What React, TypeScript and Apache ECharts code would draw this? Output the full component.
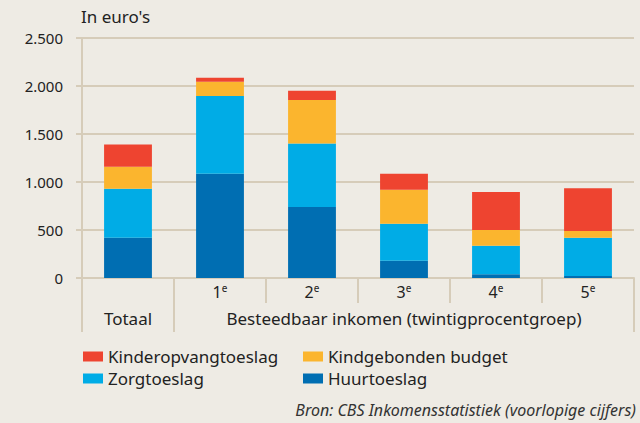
import React, { useEffect, useRef } from "react";
import * as echarts from "echarts";

const categories = ["Totaal", "1e", "2e", "3e", "4e", "5e"];
const groupLabels = ["Totaal", "", "", "Besteedbaar inkomen (twintigprocentgroep)", "", ""];
const huurtoeslag = [420, 1085, 740, 180, 40, 20];
const zorgtoeslag = [510, 810, 660, 385, 295, 400];
const kindgebondenBudget = [230, 150, 455, 355, 165, 70];
const kinderopvangtoeslag = [230, 40, 95, 165, 395, 445];
const yTicks = [0, 500, 1000, 1500, 2000, 2500];

const FONT = "'Noto Sans', sans-serif";
const BG = "#EEEBE4";
const LINE = "#D6CCB9";
const TEXT = "#222222";
const GRID_LEFT = 82;
const GRID_RIGHT = 6;
const GRID_TOP = 38;
const GRID_BOTTOM = 145;
const W = 640;
const H = 423;

export default function App() {
  const ref = useRef<HTMLDivElement>(null);
  useEffect(() => {
    document.body.style.margin = "0";
    const chart = echarts.init(ref.current!, null, { renderer: "svg" });
    const plotRight = W - GRID_RIGHT;
    const band = (plotRight - GRID_LEFT) / categories.length;
    const axisBottom = H - GRID_BOTTOM;
    const sepBottom = 332;
    const fmt = (v: number) => String(v).replace(/\B(?=(\d{3})+(?!\d))/g, ".");
    const barStyle = (name: string, data: number[], color: string) => ({
      name,
      type: "bar",
      stack: "total",
      data,
      barWidth: "52%",
      xAxisIndex: 0,
      itemStyle: { color },
    });
    const legendCommon = {
      orient: "vertical",
      top: 348,
      padding: 0,
      itemWidth: 20,
      itemHeight: 10,
      itemGap: 5,
      icon: "rect",
      textStyle: { fontFamily: FONT, fontSize: 17, color: TEXT },
    };
    chart.setOption({
      animation: false,
      backgroundColor: BG,
      textStyle: { fontFamily: FONT },
      title: {
        text: "In euro's",
        left: GRID_LEFT - 1,
        top: 8,
        padding: 0,
        textStyle: { fontFamily: FONT, fontSize: 17, fontWeight: "normal", color: TEXT },
      },
      grid: { left: GRID_LEFT, right: GRID_RIGHT, top: GRID_TOP, bottom: GRID_BOTTOM, containLabel: false },
      legend: [
        { ...legendCommon, data: ["Kinderopvangtoeslag", "Zorgtoeslag"], left: 83 },
        { ...legendCommon, data: ["Kindgebonden budget", "Huurtoeslag"], left: 303 },
      ],
      xAxis: [
        {
          type: "category",
          data: categories,
          position: "bottom",
          axisLine: { show: true, lineStyle: { color: LINE, width: 2 } },
          axisTick: { show: true, length: 25, alignWithLabel: false, interval: 0, lineStyle: { color: LINE, width: 2 } },
          axisLabel: {
            interval: 0,
            margin: 5,
            color: TEXT,
            formatter: (v: string) => (v === "Totaal" ? "" : `{n|${v.slice(0, -1)}}{s|${v.slice(-1)}}`),
            rich: {
              n: { fontFamily: FONT, fontSize: 16, color: TEXT },
              s: { fontFamily: FONT, fontSize: 10, color: TEXT, padding: [0, 0, 8, 0] },
            },
          },
        },
        {
          type: "category",
          data: groupLabels,
          position: "bottom",
          axisLine: { show: false },
          axisTick: { show: false },
          axisLabel: { interval: 0, margin: 32, fontFamily: FONT, fontSize: 17, color: TEXT },
        },
      ],
      yAxis: {
        type: "value",
        min: 0,
        max: 2500,
        interval: 500,
        axisLine: { show: true, lineStyle: { color: LINE, width: 2 } },
        axisTick: { show: true, length: 6, lineStyle: { color: LINE, width: 2 } },
        splitLine: { show: true, lineStyle: { color: LINE, width: 2 } },
        axisLabel: {
          margin: 19,
          fontFamily: FONT,
          fontSize: 15,
          color: TEXT,
          formatter: (v: number) => (yTicks.includes(v) ? fmt(v) : ""),
        },
      },
      series: [
        barStyle("Huurtoeslag", huurtoeslag, "#006EB2"),
        barStyle("Zorgtoeslag", zorgtoeslag, "#00ACE6"),
        barStyle("Kindgebonden budget", kindgebondenBudget, "#FBB52E"),
        barStyle("Kinderopvangtoeslag", kinderopvangtoeslag, "#EE4430"),
      ],
      graphic: [
        ...[GRID_LEFT, GRID_LEFT + band, plotRight].map((x) => ({
          type: "line",
          shape: { x1: x, y1: axisBottom, x2: x, y2: sepBottom },
          style: { stroke: LINE, lineWidth: 2 },
          silent: true,
        })),
        {
          type: "text",
          right: 4,
          top: 402,
          style: {
            text: "Bron: CBS Inkomensstatistiek (voorlopige cijfers)",
            font: `italic 16px ${FONT}`,
            fill: "#333333",
          },
        },
      ],
    });
    return () => chart.dispose();
  }, []);
  return <div ref={ref} style={{ position: "absolute", left: 0, top: 0, width: W, height: H }} />;
}
